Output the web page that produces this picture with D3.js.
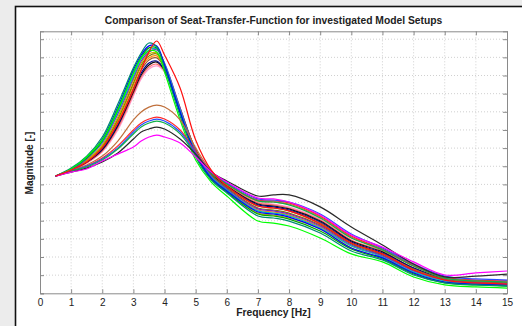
<!DOCTYPE html>
<html><head><meta charset="utf-8">
<script src="https://cdn.jsdelivr.net/npm/d3@7"></script>
<style>
html,body{margin:0;padding:0;background:#ececec;}
svg{display:block;}
text{font-family:"Liberation Sans",Arial,Helvetica,sans-serif;}
</style></head>
<body>
<svg id="chart" width="522" height="326"></svg>
<script>
const title = "Comparison of Seat-Transfer-Function for investigated Model Setups";
const xLabel = "Frequency [Hz]";
const yLabel = "Magnitude [-]";
const xTicks = d3.range(0, 16, 1);
const yTicks = d3.range(0, 1.41, 0.1);
const freq = [0.5,1,1.5,2,2.5,3,3.25,3.5,3.75,4,4.5,5,5.5,6,7,7.5,8,9,10,11,12,13,14,15];

const sTeal    = [0.646,0.690,0.756,0.861,1.043,1.242,1.324,1.379,1.357,1.242,0.976,0.751,0.624,0.553,0.426,0.415,0.398,0.332,0.233,0.184,0.101,0.057,0.046,0.040];
const sBlue    = [0.646,0.685,0.751,0.850,1.026,1.230,1.313,1.363,1.363,1.258,0.999,0.767,0.635,0.564,0.448,0.437,0.420,0.354,0.250,0.195,0.112,0.062,0.051,0.046];
const sGreen   = [0.646,0.685,0.745,0.839,1.010,1.214,1.302,1.352,1.352,1.253,0.993,0.762,0.630,0.558,0.437,0.426,0.409,0.343,0.244,0.189,0.106,0.057,0.046,0.040];
const sCyan    = [0.646,0.685,0.745,0.834,0.999,1.197,1.291,1.341,1.346,1.263,1.010,0.773,0.641,0.569,0.454,0.442,0.426,0.360,0.261,0.200,0.117,0.068,0.051,0.046];
const sPurple  = [0.646,0.679,0.740,0.828,0.988,1.186,1.280,1.330,1.341,1.269,1.021,0.784,0.646,0.575,0.465,0.454,0.437,0.371,0.266,0.206,0.123,0.073,0.057,0.051];
const sLime    = [0.646,0.685,0.751,0.845,1.015,1.214,1.297,1.335,1.330,1.219,0.955,0.734,0.613,0.536,0.398,0.387,0.371,0.305,0.217,0.173,0.090,0.046,0.035,0.029];
const sGold    = [0.646,0.679,0.734,0.817,0.971,1.175,1.269,1.319,1.324,1.253,1.010,0.779,0.641,0.564,0.442,0.431,0.415,0.354,0.250,0.195,0.112,0.062,0.051,0.046];
const sOlive   = [0.646,0.679,0.734,0.812,0.960,1.159,1.258,1.308,1.319,1.258,1.021,0.790,0.652,0.580,0.470,0.459,0.442,0.376,0.272,0.211,0.128,0.073,0.057,0.051];
const sOrange  = [0.646,0.679,0.729,0.806,0.949,1.148,1.247,1.297,1.308,1.247,1.010,0.779,0.646,0.575,0.459,0.448,0.431,0.365,0.261,0.206,0.123,0.073,0.057,0.051];
const sBrown   = [0.646,0.679,0.729,0.801,0.938,1.131,1.230,1.286,1.297,1.242,1.010,0.784,0.652,0.586,0.481,0.470,0.454,0.387,0.277,0.217,0.134,0.079,0.062,0.057];
const sNavy    = [0.646,0.679,0.723,0.795,0.927,1.120,1.214,1.269,1.280,1.230,1.004,0.784,0.652,0.586,0.487,0.476,0.459,0.393,0.283,0.222,0.139,0.079,0.062,0.057];
const sBlackHi = [0.646,0.679,0.723,0.790,0.922,1.109,1.203,1.258,1.274,1.230,1.010,0.790,0.657,0.591,0.492,0.481,0.465,0.398,0.288,0.228,0.139,0.079,0.062,0.057];
const sSalmon  = [0.646,0.674,0.718,0.784,0.911,1.098,1.192,1.247,1.263,1.225,1.010,0.790,0.657,0.597,0.498,0.487,0.470,0.404,0.294,0.233,0.150,0.084,0.068,0.062];
const sPink    = [0.646,0.674,0.718,0.779,0.900,1.087,1.181,1.236,1.253,1.219,1.010,0.795,0.663,0.602,0.503,0.492,0.476,0.409,0.305,0.250,0.167,0.090,0.073,0.073];
const sRedHi   = [0.646,0.679,0.723,0.801,0.938,1.120,1.230,1.330,1.390,1.313,1.131,0.845,0.679,0.591,0.481,0.470,0.454,0.382,0.277,0.217,0.128,0.073,0.057,0.051];
const sBrownLo = [0.646,0.679,0.707,0.756,0.839,0.955,0.999,1.026,1.037,1.026,0.955,0.801,0.674,0.602,0.509,0.503,0.492,0.420,0.310,0.239,0.150,0.084,0.068,0.062];
const sRedLo   = [0.646,0.674,0.701,0.745,0.812,0.900,0.938,0.960,0.971,0.960,0.900,0.779,0.668,0.602,0.514,0.509,0.498,0.426,0.316,0.244,0.156,0.090,0.073,0.068];
const sBlueLo  = [0.646,0.674,0.701,0.740,0.801,0.889,0.927,0.949,0.960,0.949,0.889,0.773,0.668,0.608,0.520,0.514,0.503,0.437,0.327,0.250,0.161,0.095,0.079,0.073];
const sGreenLo = [0.646,0.674,0.696,0.734,0.795,0.878,0.916,0.938,0.949,0.938,0.878,0.762,0.663,0.602,0.509,0.503,0.487,0.415,0.305,0.239,0.150,0.084,0.068,0.062];
const sGrayLo  = [0.646,0.668,0.690,0.723,0.773,0.850,0.889,0.905,0.916,0.905,0.850,0.767,0.668,0.619,0.536,0.542,0.542,0.476,0.365,0.266,0.161,0.090,0.095,0.106];
const sMagenta = [0.646,0.668,0.685,0.729,0.767,0.806,0.839,0.861,0.872,0.861,0.828,0.751,0.668,0.613,0.525,0.520,0.503,0.431,0.321,0.255,0.173,0.101,0.112,0.123];

const series = [
  {v:sPink,c:"#ff9ccf"},{v:sSalmon,c:"#ff6a6a"},{v:sBlackHi,c:"#111111"},{v:sNavy,c:"#00008c"},
  {v:sBrown,c:"#9c5a2a"},{v:sOrange,c:"#ff8a00"},{v:sOlive,c:"#7f7f00"},{v:sGold,c:"#c9b200"},
  {v:sPurple,c:"#7a22c8"},{v:sCyan,c:"#00bcbc"},{v:sGreen,c:"#00a800"},{v:sBlue,c:"#0000ff"},
  {v:sTeal,c:"#008c72"},{v:sLime,c:"#00ff00"},
  {v:sBrownLo,c:"#c0703c"},{v:sRedLo,c:"#ff2a2a"},{v:sBlueLo,c:"#2a4cff"},{v:sGreenLo,c:"#10b048"},
  {v:sGrayLo,c:"#2a2a2a"},{v:sMagenta,c:"#ff00ff"},{v:sRedHi,c:"#ff1010"}
];

const svg = d3.select("#chart");
// window frame
svg.append("rect").attr("x",0).attr("y",0).attr("width",522).attr("height",326).attr("fill","#ececec");
svg.append("rect").attr("x",15.5).attr("y",6.5).attr("width",530).attr("height",340)
  .attr("fill","#ffffff").attr("stroke","#111").attr("stroke-width",1.6);

const L=40, R=507, T=31.3, B=293.3;
const x = d3.scaleLinear().domain([0,15]).range([L,R]);
const y = d3.scaleLinear().domain([0,(B-T)/181.5]).range([B,T]);

const g = svg.append("g");
// grid
g.append("g").selectAll("line").data(xTicks.slice(1,-1)).join("line")
  .attr("x1",d=>x(d)).attr("x2",d=>x(d)).attr("y1",T).attr("y2",B)
  .attr("stroke","#c4c4c4").attr("stroke-width",0.8).attr("stroke-dasharray","1,2");
g.append("g").selectAll("line").data(yTicks.slice(1)).join("line")
  .attr("x1",L).attr("x2",R).attr("y1",d=>y(d)).attr("y2",d=>y(d))
  .attr("stroke","#c4c4c4").attr("stroke-width",0.8).attr("stroke-dasharray","1,2");

// curves
const line = d3.line().x((d,i)=>x(freq[i])).y(d=>y(d)).curve(d3.curveCatmullRom.alpha(0.5));
g.append("g").selectAll("path").data(series).join("path")
  .attr("d",d=>line(d.v)).attr("fill","none").attr("stroke",d=>d.c).attr("stroke-width",1.2);

// axes (MATLAB-style box with inward ticks)
const axc="#8a8a8a";
const xb = d3.axisBottom(x).tickValues(xTicks).tickSize(-4).tickPadding(6).tickFormat(d3.format("d"));
const xt = d3.axisTop(x).tickValues(xTicks).tickSize(-4).tickFormat("");
const yl = d3.axisLeft(y).tickValues(yTicks).tickSize(-4).tickFormat("");
const yr = d3.axisRight(y).tickValues(yTicks).tickSize(-4).tickFormat("");
function style(sel){ sel.selectAll("path,line").attr("stroke",axc); sel.select(".domain").attr("stroke-width",1); }
const gx = svg.append("g").attr("transform",`translate(0,${B})`).call(xb).call(style);
gx.selectAll("text").attr("fill","#222").style("font-size","10px").style("font-family","'Liberation Sans',Arial,sans-serif");
svg.append("g").attr("transform",`translate(0,${T})`).call(xt).call(style);
svg.append("g").attr("transform",`translate(${L},0)`).call(yl).call(style);
svg.append("g").attr("transform",`translate(${R},0)`).call(yr).call(style);

// texts
svg.append("text").attr("x",(L+R)/2).attr("y",24).attr("text-anchor","middle")
  .style("font-size","10.3px").style("font-weight","bold").attr("fill","#222").text(title);
svg.append("text").attr("x",(L+R)/2).attr("y",316).attr("text-anchor","middle")
  .style("font-size","10.3px").style("font-weight","bold").attr("fill","#222").text(xLabel);
svg.append("text").attr("transform","translate(33,163) rotate(-90)").attr("text-anchor","middle")
  .style("font-size","10px").style("font-weight","bold").attr("fill","#222").text(yLabel);
</script>
</body></html>
